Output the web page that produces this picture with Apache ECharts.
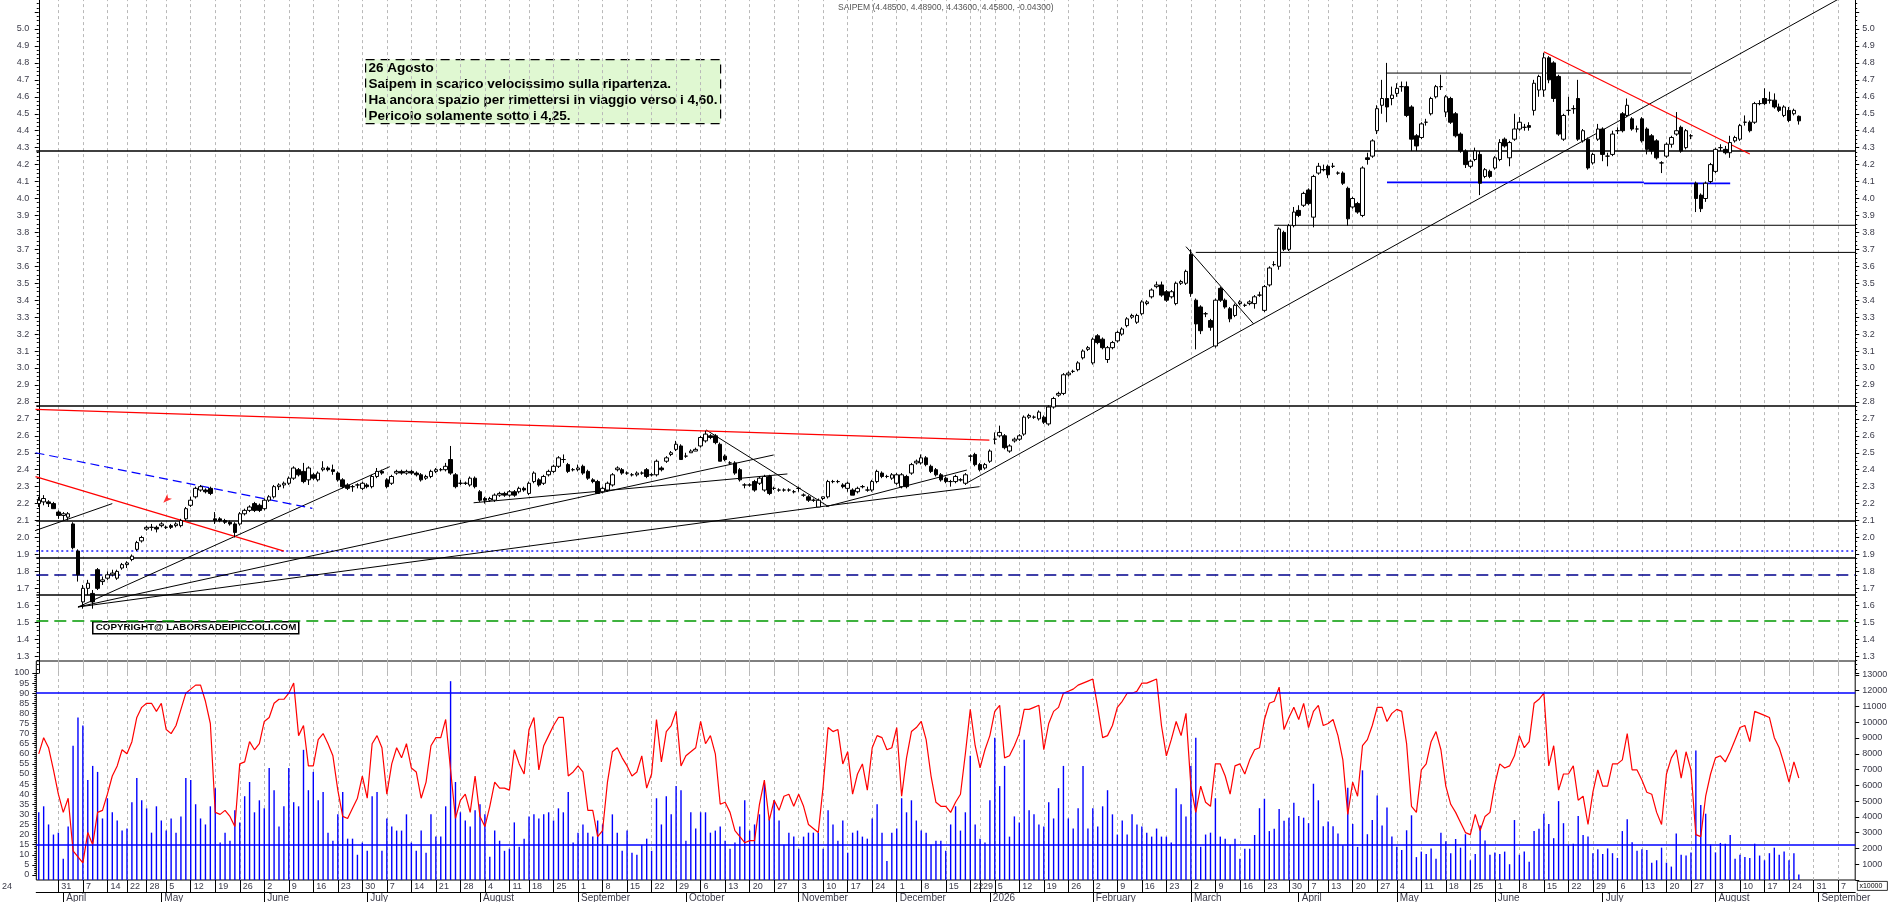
<!DOCTYPE html>
<html>
<head>
<meta charset="utf-8">
<title>SAIPEM</title>
<script src="https://cdn.jsdelivr.net/npm/echarts@6/dist/echarts.min.js"></script>
<style>
html, body { margin: 0; padding: 0; background: #fff; }
#chart { width: 1890px; height: 902px; }
</style>
</head>
<body>
<div id="chart"></div>
<script>
// trading calendar: first candle 25 Mar 2025, axis runs on to mid September 2026
const startDay = '2025-03-25';
const slotCount = 371;
const holidays = ['2025-04-18', '2025-04-21', '2025-05-01', '2025-08-15', '2025-12-24', '2025-12-25',
  '2025-12-26', '2025-12-31', '2026-01-01', '2026-04-03', '2026-04-06', '2026-05-01'];
const monthNames = ['January', 'February', 'March', 'April', 'May', 'June', 'July', 'August',
  'September', 'October', 'November', 'December'];

// daily candles [open, close, low, high]
const candles = [
  [2.20,2.22,2.18,2.24],[2.21,2.23,2.19,2.25],[2.21,2.20,2.18,2.22],[2.20,2.17,2.17,2.21],[2.15,2.13,2.11,2.16],[2.13,2.14,2.10,2.15],[2.12,2.14,2.10,2.15],[2.08,1.94,1.93,2.09],[1.92,1.78,1.74,1.93],[1.62,1.70,1.58,1.72],
  [1.70,1.73,1.66,1.75],[1.67,1.62,1.58,1.69],[1.81,1.70,1.69,1.82],[1.74,1.75,1.72,1.77],[1.76,1.78,1.75,1.80],[1.78,1.79,1.77,1.81],[1.76,1.80,1.75,1.81],[1.82,1.84,1.81,1.85],[1.84,1.85,1.82,1.86],[1.87,1.89,1.86,1.90],
  [1.93,1.97,1.92,1.98],[1.98,2.00,1.97,2.01],[2.05,2.06,2.04,2.07],[2.06,2.06,2.04,2.08],[2.06,2.05,2.03,2.07],[2.07,2.08,2.06,2.09],[2.06,2.06,2.05,2.07],[2.07,2.06,2.05,2.08],[2.07,2.08,2.06,2.09],[2.07,2.10,2.06,2.11],
  [2.11,2.17,2.10,2.18],[2.19,2.22,2.18,2.24],[2.24,2.29,2.23,2.30],[2.28,2.30,2.27,2.31],[2.28,2.27,2.26,2.29],[2.29,2.26,2.25,2.30],[2.11,2.10,2.08,2.15],[2.11,2.10,2.09,2.12],[2.10,2.09,2.08,2.11],[2.09,2.08,2.07,2.10],
  [2.08,2.03,2.00,2.09],[2.08,2.14,2.07,2.15],[2.14,2.16,2.13,2.17],[2.16,2.18,2.15,2.19],[2.20,2.16,2.15,2.21],[2.19,2.16,2.15,2.20],[2.17,2.22,2.16,2.23],[2.22,2.24,2.21,2.25],[2.24,2.30,2.23,2.31],[2.30,2.31,2.28,2.32],
  [2.31,2.32,2.29,2.33],[2.32,2.35,2.31,2.36],[2.35,2.41,2.34,2.42],[2.40,2.37,2.36,2.41],[2.39,2.33,2.32,2.44],[2.34,2.41,2.31,2.42],[2.37,2.35,2.34,2.38],[2.34,2.38,2.33,2.39],[2.40,2.41,2.39,2.45],[2.41,2.40,2.39,2.42],
  [2.40,2.39,2.37,2.43],[2.38,2.34,2.33,2.39],[2.34,2.30,2.29,2.35],[2.31,2.29,2.28,2.32],[2.30,2.30,2.27,2.31],[2.31,2.31,2.29,2.32],[2.29,2.32,2.28,2.33],[2.31,2.30,2.29,2.32],[2.30,2.36,2.29,2.37],[2.36,2.39,2.35,2.41],
  [2.39,2.38,2.37,2.40],[2.34,2.30,2.29,2.35],[2.32,2.36,2.31,2.37],[2.38,2.39,2.37,2.40],[2.39,2.38,2.37,2.40],[2.38,2.39,2.37,2.40],[2.39,2.38,2.37,2.40],[2.38,2.37,2.36,2.39],[2.37,2.34,2.33,2.38],[2.35,2.36,2.34,2.37],
  [2.36,2.39,2.35,2.40],[2.39,2.40,2.38,2.41],[2.40,2.40,2.39,2.41],[2.40,2.42,2.39,2.44],[2.46,2.38,2.37,2.54],[2.37,2.30,2.29,2.38],[2.32,2.32,2.31,2.34],[2.32,2.32,2.31,2.33],[2.31,2.35,2.30,2.36],[2.35,2.30,2.29,2.36],
  [2.27,2.22,2.21,2.28],[2.23,2.22,2.20,2.24],[2.22,2.23,2.21,2.24],[2.22,2.25,2.21,2.26],[2.25,2.26,2.24,2.27],[2.26,2.25,2.24,2.27],[2.25,2.27,2.24,2.28],[2.27,2.25,2.24,2.28],[2.27,2.29,2.26,2.30],[2.29,2.28,2.27,2.30],
  [2.26,2.32,2.25,2.33],[2.33,2.38,2.32,2.39],[2.34,2.31,2.30,2.35],[2.32,2.36,2.31,2.37],[2.37,2.39,2.36,2.40],[2.39,2.42,2.38,2.43],[2.42,2.47,2.41,2.48],[2.46,2.46,2.44,2.49],[2.43,2.39,2.38,2.44],[2.40,2.40,2.39,2.41],
  [2.40,2.41,2.39,2.43],[2.42,2.38,2.37,2.43],[2.39,2.35,2.34,2.40],[2.34,2.33,2.32,2.35],[2.33,2.26,2.26,2.34],[2.27,2.29,2.26,2.30],[2.28,2.32,2.27,2.33],[2.31,2.37,2.30,2.38],[2.40,2.41,2.39,2.42],[2.40,2.38,2.37,2.41],
  [2.38,2.38,2.37,2.39],[2.37,2.37,2.36,2.38],[2.37,2.38,2.36,2.39],[2.38,2.38,2.37,2.39],[2.40,2.36,2.35,2.41],[2.37,2.37,2.36,2.38],[2.37,2.45,2.36,2.46],[2.41,2.40,2.39,2.42],[2.45,2.47,2.44,2.48],[2.49,2.50,2.48,2.51],
  [2.52,2.55,2.51,2.57],[2.54,2.46,2.46,2.55],[2.48,2.48,2.47,2.50],[2.50,2.51,2.50,2.52],[2.51,2.52,2.51,2.53],[2.54,2.59,2.53,2.60],[2.57,2.61,2.56,2.63],[2.60,2.59,2.58,2.61],[2.60,2.56,2.55,2.61],[2.55,2.45,2.45,2.56],
  [2.48,2.46,2.45,2.49],[2.44,2.44,2.43,2.45],[2.44,2.38,2.37,2.45],[2.40,2.34,2.33,2.41],[2.31,2.31,2.29,2.32],[2.31,2.31,2.30,2.32],[2.33,2.28,2.27,2.34],[2.32,2.35,2.31,2.36],[2.28,2.36,2.27,2.37],[2.36,2.26,2.25,2.37],
  [2.29,2.29,2.28,2.30],[2.28,2.28,2.27,2.29],[2.28,2.28,2.27,2.29],[2.28,2.28,2.27,2.29],[2.27,2.27,2.26,2.28],[2.29,2.29,2.27,2.30],[2.25,2.25,2.24,2.26],[2.24,2.22,2.21,2.25],[2.22,2.22,2.21,2.23],[2.18,2.22,2.18,2.23],
  [2.23,2.24,2.22,2.24],[2.24,2.33,2.23,2.34],[2.33,2.33,2.32,2.34],[2.33,2.33,2.32,2.34],[2.31,2.30,2.29,2.32],[2.29,2.32,2.27,2.33],[2.28,2.25,2.25,2.29],[2.27,2.29,2.26,2.30],[2.30,2.30,2.29,2.31],[2.28,2.28,2.27,2.30],
  [2.28,2.33,2.27,2.34],[2.33,2.39,2.32,2.40],[2.38,2.36,2.35,2.39],[2.36,2.36,2.35,2.37],[2.35,2.37,2.34,2.38],[2.32,2.37,2.31,2.38],[2.30,2.37,2.29,2.38],[2.36,2.30,2.29,2.37],[2.38,2.43,2.37,2.44],[2.44,2.45,2.43,2.46],
  [2.44,2.47,2.43,2.49],[2.47,2.43,2.42,2.48],[2.42,2.39,2.38,2.43],[2.40,2.37,2.36,2.41],[2.37,2.34,2.33,2.38],[2.35,2.33,2.32,2.36],[2.33,2.33,2.30,2.34],[2.33,2.36,2.32,2.37],[2.34,2.34,2.33,2.35],[2.32,2.37,2.31,2.38],
  [2.48,2.48,2.45,2.49],[2.49,2.43,2.42,2.50],[2.43,2.40,2.39,2.44],[2.41,2.43,2.40,2.44],[2.45,2.51,2.44,2.52],[2.58,2.58,2.55,2.62],[2.60,2.62,2.59,2.66],[2.60,2.53,2.52,2.61],[2.51,2.54,2.50,2.55],[2.57,2.58,2.56,2.59],
  [2.58,2.60,2.57,2.61],[2.61,2.71,2.60,2.72],[2.71,2.72,2.70,2.73],[2.71,2.71,2.70,2.72],[2.70,2.74,2.69,2.75],[2.71,2.68,2.67,2.72],[2.67,2.77,2.66,2.78],[2.77,2.82,2.76,2.83],[2.84,2.85,2.83,2.86],[2.85,2.96,2.84,2.97],
  [2.96,2.97,2.95,2.98],[2.98,2.98,2.97,2.99],[2.99,3.03,2.98,3.04],[3.06,3.10,3.05,3.11],[3.11,3.12,3.10,3.13],[3.03,3.17,3.02,3.18],[3.19,3.15,3.14,3.20],[3.17,3.12,3.11,3.18],[3.05,3.12,3.03,3.13],[3.12,3.15,3.11,3.16],
  [3.16,3.21,3.15,3.22],[3.20,3.23,3.19,3.24],[3.25,3.29,3.24,3.30],[3.30,3.31,3.29,3.32],[3.27,3.31,3.26,3.32],[3.32,3.39,3.31,3.40],[3.38,3.39,3.37,3.40],[3.42,3.46,3.41,3.47],[3.48,3.49,3.47,3.51],[3.49,3.43,3.42,3.51],
  [3.45,3.40,3.39,3.46],[3.42,3.45,3.41,3.46],[3.38,3.50,3.37,3.51],[3.50,3.51,3.49,3.52],[3.50,3.57,3.49,3.58],[3.67,3.44,3.42,3.70],[3.40,3.26,3.11,3.41],[3.36,3.22,3.20,3.37],[3.32,3.32,3.30,3.33],[3.28,3.24,3.22,3.29],
  [3.13,3.40,3.12,3.41],[3.47,3.40,3.39,3.48],[3.40,3.36,3.35,3.41],[3.35,3.29,3.27,3.36],[3.31,3.37,3.30,3.38],[3.38,3.39,3.37,3.40],[3.37,3.37,3.36,3.38],[3.38,3.39,3.37,3.40],[3.38,3.42,3.35,3.43],[3.43,3.43,3.42,3.45],
  [3.34,3.48,3.33,3.49],[3.49,3.59,3.48,3.60],[3.61,3.61,3.60,3.63],[3.60,3.82,3.58,3.83],[3.80,3.70,3.69,3.81],[3.70,3.84,3.69,3.85],[3.84,3.92,3.83,3.95],[3.93,3.90,3.89,3.96],[3.96,4.03,3.95,4.04],[4.05,3.97,3.96,4.06],
  [3.89,4.13,3.83,4.14],[4.15,4.19,4.14,4.21],[4.17,4.17,4.16,4.20],[4.19,4.14,4.12,4.20],[4.19,4.19,4.18,4.21],[4.15,4.15,4.14,4.16],[4.15,4.09,4.08,4.16],[4.06,3.88,3.84,4.07],[3.95,4.00,3.94,4.01],[3.97,3.92,3.91,3.98],
  [3.90,4.18,3.89,4.19],[4.24,4.23,4.20,4.27],[4.25,4.34,4.24,4.35],[4.40,4.53,4.38,4.55],[4.55,4.59,4.50,4.70],[4.59,4.54,4.45,4.80],[4.59,4.61,4.55,4.66],[4.62,4.65,4.60,4.68],[4.66,4.66,4.63,4.69],[4.66,4.49,4.48,4.69],
  [4.54,4.35,4.28,4.55],[4.37,4.31,4.28,4.38],[4.36,4.44,4.35,4.45],[4.45,4.45,4.43,4.47],[4.50,4.59,4.49,4.60],[4.60,4.66,4.59,4.67],[4.66,4.66,4.64,4.73],[4.51,4.60,4.48,4.61],[4.59,4.45,4.44,4.60],[4.50,4.37,4.36,4.51],
  [4.38,4.28,4.27,4.39],[4.28,4.20,4.18,4.29],[4.19,4.22,4.18,4.23],[4.23,4.28,4.22,4.30],[4.26,4.09,4.02,4.28],[4.13,4.17,4.12,4.18],[4.16,4.13,4.12,4.17],[4.18,4.24,4.17,4.25],[4.23,4.33,4.22,4.35],[4.35,4.31,4.30,4.36],
  [4.24,4.33,4.19,4.34],[4.35,4.41,4.34,4.50],[4.41,4.45,4.40,4.48],[4.42,4.42,4.40,4.44],[4.43,4.42,4.40,4.45],[4.52,4.68,4.49,4.70],[4.64,4.72,4.60,4.73],[4.64,4.83,4.60,4.86],[4.83,4.70,4.68,4.84],[4.80,4.59,4.57,4.81],
  [4.72,4.38,4.37,4.73],[4.35,4.49,4.34,4.50],[4.52,4.52,4.49,4.60],[4.53,4.53,4.50,4.55],[4.59,4.35,4.34,4.70],[4.34,4.40,4.33,4.41],[4.35,4.18,4.17,4.36],[4.21,4.26,4.20,4.27],[4.35,4.41,4.34,4.44],[4.41,4.26,4.22,4.42],
  [4.25,4.25,4.19,4.27],[4.26,4.38,4.25,4.40],[4.40,4.40,4.38,4.42],[4.50,4.40,4.39,4.51],[4.49,4.55,4.48,4.59],[4.47,4.41,4.40,4.48],[4.41,4.41,4.39,4.43],[4.47,4.34,4.33,4.48],[4.41,4.29,4.26,4.42],[4.37,4.28,4.26,4.38],
  [4.34,4.24,4.23,4.35],[4.21,4.21,4.15,4.22],[4.25,4.32,4.24,4.33],[4.32,4.36,4.30,4.37],[4.38,4.40,4.37,4.51],[4.42,4.28,4.27,4.43],[4.30,4.40,4.29,4.41],[4.37,4.37,4.35,4.38],[4.09,4.00,3.92,4.10],[4.02,3.94,3.92,4.03],
  [4.00,4.09,3.98,4.10],[4.10,4.20,4.09,4.21],[4.16,4.29,4.15,4.30],[4.30,4.30,4.28,4.32],[4.29,4.27,4.26,4.31],[4.27,4.33,4.24,4.37],[4.34,4.36,4.33,4.37],[4.35,4.43,4.34,4.44],[4.45,4.45,4.43,4.49],[4.45,4.40,4.39,4.46],
  [4.45,4.56,4.44,4.57],[4.56,4.56,4.55,4.58],[4.59,4.56,4.55,4.65],[4.58,4.58,4.56,4.63],[4.58,4.54,4.53,4.62],[4.54,4.52,4.51,4.56],[4.49,4.54,4.48,4.55],[4.52,4.46,4.45,4.54],[4.50,4.52,4.49,4.53],[4.485,4.458,4.436,4.49]
];

// daily volume (right scale of the lower panel)
const volumes = [
  4290,4670,3520,2880,3000,1340,3390,8510,10300,9790, 6330,7230,6850,3900,5180,4290,3770,3130,3260,4930,
  6460,5050,4540,3000,4670,3770,3130,3900,3000,4030, 6460,6330,4800,3900,3520,4670,5820,2370,3000,2490,
  4420,3650,5310,6210,4290,5050,4540,7100,5690,3390, 4670,7100,4930,4670,8250,5690,6850,5050,5570,3000,
  2490,4160,5570,2620,2620,1600,2370,1850,5310,5570, 1850,3900,3390,3130,3130,4160,2370,1850,3130,1730,
  4160,2750,2750,4670,12600,6210,4290,3770,3390,4420, 4800,4160,1470,3130,2490,1850,1980,3650,2110,2620,
  4030,4160,3900,4160,4290,3770,4540,4290,5570,2370, 3000,3520,3000,2750,3770,3520,2240,4160,3000,
  1850,3130,1730,1600,2240,2620,1850,5180,3520,5310, 4160,5950,5690,2490,4290,3260,4290,4290,3000,3130,
  3390,2490,1980,2370,3390,5050,3130,3520,4160,6080, 3900,5050,3770,2240,3000,2750,1980,2750,3000,3000,
  3000,1980,4420,3520,2490,3770,1730,3000,3130,2750, 2620,3900,4800,3000,1210,3000,3260,5180,4290,5050,
  3770,3130,3000,2240,2490,2490,1850,3520,4670,3130, 4290,7870,3520,2620,2370,5050,9020,5950,7230,2750,
  4030,3650,8890,4420,4160,3520,3390,4930,3900,5820, 7230,3900,3260,4540,7230,3260,4540,3390,4670,5690,
  4160,2880,3770,2880,4160,3520,3390,3000,2750,3260, 2750,2750,2370,5820,4800,4030,7230,9020,2110,2880,
  3000,5180,2750,2620,2240,2620,1340,1980,1980,
  2850,4550,5150,3100,3250,4500,3750,3950,4900,4050, 3950,3600,6100,5050,3400,3700,3400,2950,2200,5850,
  3550,2100,6950,2900,3800,5350,3450,4600,2750,2100, 1900,3150,4100,1450,1800,1650,2000,1350,3000,2450,
  1700,2600,2050,2900,1250,1650,3450,2500,1600,1750, 1650,1800,1000,3800,1600,1800,1150,3100,3250,4200,
  3550,2650,5000,3600,2200,2300,4050,2850,2750,1700, 1950,1650,2000,1700,1400,3100,3850,2400,1850,1950,
  1900,1100,1250,2050,1100,850,2950,1600,1550,1750, 8200,4750,4200,2250,1750,2350,2300,2850,1350,1600,
  1450,1400,2300,1550,1250,1700,2050,1600,1800,1250, 1700,350
];

// oscillator 0-100 (left scale of the lower panel)
const oscillator = [
  60,68,63,52,40,31,38,12,9,6, 21,15,31,32,40,49,54,62,60,66, 78,83,85,85,81,85,72,70,74,82,
  90,92,94,94,86,75,31,30,32,29, 24,55,56,66,62,65,76,78,85,87, 87,90,95,69,74,54,54,67,70,65,
  59,42,29,28,33,38,49,38,65,69, 63,40,55,63,58,65,53,51,38,46, 64,68,68,77,52,28,37,40,31,49,
  29,24,34,46,43,43,42,62,55,50, 72,78,52,64,69,74,78,78,49,51, 54,51,32,32,19,22,46,61,63,
  58,54,49,51,59,43,50,77,56,71, 74,81,54,59,61,63,76,65,69,60, 35,36,31,22,19,16,17,17,35,47,
  27,37,32,39,40,34,40,34,25,23, 21,44,73,71,72,55,61,40,50,55, 42,63,69,68,62,63,73,39,58,71,
  73,76,67,49,36,34,34,31,36,40, 60,82,64,53,62,69,81,84,58,59, 64,70,82,82,83,84,62,75,81,83,
  90,91,92,94,95,96,97,83,68,69, 74,83,86,90,90,91,95,95,96,97, 74,59,67,76,69,80,44,31,44,36,
  34,55,55,49,40,54,55,50,
  57,62,63,77,85,86,93,72,78,83, 77,85,73,81,84,74,75,77,69,57, 30,46,39,64,67,74,83,83,76,80,
  82,81,65,34,31,52,55,66,71,62, 44,35,31,26,21,20,30,22,29,31, 45,55,53,54,59,69,63,66,85,87,
  90,54,64,42,50,50,54,37,39,25, 41,52,44,44,55,55,57,70,52,52, 47,41,40,31,25,50,58,62,48,61,
  52,20,19,39,50,58,59,56,61,67, 73,74,66,81,80,79,78,68,63,55, 46,56,48
];
const oscLevels = [90, 15];

// horizontal price levels across the whole chart
const blackLevels = [4.28, 2.78, 2.095, 1.877, 1.658];
const blueDottedLevels = [1.918];
const navyDashedLevels = [1.782];
const greenDashedLevels = [1.51];

// drawn segments: [[day index, price], [day index, price]]
const blackLines = [
  [[189.2, 2.32], [369, 5.207]],
  [[252, 3.842], [371, 3.842]],
  [[236, 3.682], [371, 3.682]],
  [[275, 4.74], [337, 4.74]],
  [[8, 1.59], [71.6, 2.418]],
  [[8, 1.59], [149.9, 2.487]],
  [[8, 1.59], [160.6, 2.186]],
  [[160.6, 2.186], [191.9, 2.30]],
  [[88.7, 2.205], [152.7, 2.375]],
  [[136.1, 2.635], [161.1, 2.182]],
  [[160.6, 2.182], [189.3, 2.398]],
  [[-0.8, 2.04], [15, 2.20]],
  [[234, 3.716], [247.8, 3.26]]
];
const redLines = [
  [[-0.66, 2.359], [50, 1.92]],
  [[-0.66, 2.756], [193.9, 2.575]],
  [[307, 4.866], [349, 4.263]]
];
const blueLines = [
  [[275, 4.095], [327.4, 4.095]],
  [[327.4, 4.089], [345, 4.089]]
];
const blueDashedLines = [
  [[-0.66, 2.50], [55.8, 2.172]]
];
const arrowMarks = [[25.4, 2.205]];

const noteLines = ['26 Agosto', 'Saipem in scarico velocissimo sulla ripartenza.',
  'Ha ancora spazio per rimettersi in viaggio verso i 4,60.', 'Pericolo solamente sotto i 4,25.'];
const headerText = 'SAIPEM (4.48500, 4.48900, 4.43600, 4.45800, -0.04300)';
const copyrightText = 'COPYRIGHT@ LABORSADEIPICCOLI.COM';

function buildDays(start, count) {
  const out = [];
  const d = new Date(start + 'T00:00:00Z');
  while (out.length < count) {
    const wd = d.getUTCDay();
    const iso = d.toISOString().slice(0, 10);
    if (wd !== 0 && wd !== 6 && holidays.indexOf(iso) < 0) out.push(iso);
    d.setUTCDate(d.getUTCDate() + 1);
  }
  return out;
}
const days = buildDays(startDay, slotCount);
const dow = s => new Date(s + 'T00:00:00Z').getUTCDay();
const weekStart = days.map((s, i) => i > 0 && dow(s) < dow(days[i - 1]));
const monthStart = days.map((s, i) => i > 0 && s.slice(5, 7) !== days[i - 1].slice(5, 7));
const isWeek = i => weekStart[i];
const isMonth = i => monthStart[i];
const weekDays = days.filter((s, i) => weekStart[i]);

const FONT = 'Liberation Sans, Arial, sans-serif';
const labelColor = '#3a3a48';
const L = 36.3, R = 1890 - 1855.2;

function levelLines(values, color, type, width) {
  return values.map(v => ({ yAxis: v, lineStyle: { color: color, type: type, width: width } }));
}
function segSeries(list, color, type, width) {
  return list.map(seg => ({
    type: 'line', xAxisIndex: 1, yAxisIndex: 0, data: seg, symbol: 'none', silent: true,
    clip: true, z: 4, lineStyle: { color: color, type: type, width: width }
  }));
}
// weekly dashed verticals, one empty holder series per panel
function weekGrid(xi, yi) {
  return {
    type: 'line', xAxisIndex: xi, yAxisIndex: yi, data: [], silent: true, z: 1,
    markLine: { silent: true, symbol: 'none', label: { show: false }, z: 1,
      lineStyle: { color: '#b9b9b9', type: [3, 3], width: 1 },
      data: weekDays.map(s => ({ xAxis: s })) }
  };
}
const priceLabel = v => (v < 1.25 || v > 5.05) ? '' : v.toFixed(1);

const option = {
  animation: false,
  backgroundColor: '#fff',
  textStyle: { fontFamily: FONT },
  grid: [
    { left: L, right: R, top: -4.9, height: 678, outerBoundsMode: 'none' },
    { left: L, right: R, top: 673, height: 202, outerBoundsMode: 'none' },
    { left: L, right: R, top: 661, height: 219, show: true, borderColor: '#000', borderWidth: 1, outerBoundsMode: 'none' }
  ],
  xAxis: [
    { type: 'category', gridIndex: 0, data: days, axisLine: { show: false }, axisTick: { show: false },
      axisLabel: { show: false }, splitLine: { show: false } },
    { type: 'value', gridIndex: 0, min: -0.5, max: slotCount - 0.5, show: false },
    { type: 'category', gridIndex: 1, data: days, show: false },
    { type: 'category', gridIndex: 2, data: days, axisLine: { show: false },
      axisTick: { show: true, interval: isWeek, alignWithLabel: true, length: 12, lineStyle: { color: '#000' } },
      axisLabel: { interval: isWeek, formatter: v => String(+v.slice(8)), align: 'left', margin: 2,
        padding: [0, 0, 0, 3], fontSize: 9, color: labelColor },
      splitLine: { show: false } },
    { type: 'category', gridIndex: 2, data: days, position: 'bottom', offset: 12,
      axisLine: { show: true, lineStyle: { color: '#000', width: 1.2 } },
      axisTick: { show: true, interval: isMonth, alignWithLabel: true, length: 10, lineStyle: { color: '#000' } },
      axisLabel: { interval: isMonth, align: 'left', margin: 1, padding: [0, 0, 0, 3], fontSize: 10, color: labelColor,
        formatter: v => v.slice(5, 7) === '01' ? v.slice(0, 4) : monthNames[+v.slice(5, 7) - 1] },
      splitLine: { show: false } }
  ],
  yAxis: [
    { type: 'value', gridIndex: 0, position: 'left', min: 1.2, max: 5.2, interval: 0.1,
      axisLine: { show: true, lineStyle: { color: '#000' } },
      axisTick: { show: true, length: 4, lineStyle: { color: '#000' } },
      minorTick: { show: true, splitNumber: 4, length: 2, lineStyle: { color: '#000' } },
      axisLabel: { formatter: priceLabel, fontSize: 9, color: labelColor, margin: 7 }, splitLine: { show: false } },
    { type: 'value', gridIndex: 0, position: 'right', min: 1.2, max: 5.2, interval: 0.1,
      axisLine: { show: true, lineStyle: { color: '#000' } },
      axisTick: { show: true, length: 4, lineStyle: { color: '#000' } },
      minorTick: { show: true, splitNumber: 4, length: 2, lineStyle: { color: '#000' } },
      axisLabel: { formatter: priceLabel, fontSize: 9, color: labelColor, margin: 7 }, splitLine: { show: false } },
    { type: 'value', gridIndex: 1, position: 'left', min: 0, max: 100, interval: 5,
      axisLine: { show: false }, axisTick: { show: true, length: 4, lineStyle: { color: '#000' } },
      minorTick: { show: true, splitNumber: 5, length: 2, lineStyle: { color: '#000' } },
      axisLabel: { fontSize: 9, color: labelColor, margin: 7 }, splitLine: { show: false } },
    { type: 'value', gridIndex: 2, position: 'right', min: 0, max: 13878, interval: 1000,
      axisLine: { show: false }, axisTick: { show: true, length: 4, lineStyle: { color: '#000' } },
      axisLabel: { fontSize: 9, color: labelColor, margin: 7, showMaxLabel: false,
        formatter: v => v === 0 ? '' : String(v) }, splitLine: { show: false } }
  ],
  series: [
    weekGrid(0, 0),
    weekGrid(3, 3),
    { type: 'candlestick', xAxisIndex: 0, yAxisIndex: 0, data: candles, barWidth: 4, z: 5,
      itemStyle: { color: '#fff', color0: '#000', borderColor: '#000', borderColor0: '#000', borderWidth: 1 },
      markLine: { silent: true, symbol: 'none', label: { show: false }, z: 3,
        data: [].concat(
          levelLines(blackLevels, '#000', 'solid', 1.5),
          levelLines(blueDottedLevels, '#1a1aff', [2, 3], 1.5),
          levelLines(navyDashedLevels, '#00008c', [12, 6], 1.5),
          levelLines(greenDashedLevels, '#009900', [12, 6], 1.5)) } },
    ...segSeries(blackLines, '#000', 'solid', 1),
    ...segSeries(redLines, '#ff0000', 'solid', 1.2),
    ...segSeries(blueLines, '#0000ff', 'solid', 1.6),
    ...segSeries(blueDashedLines, '#0000ff', [9, 5], 1.2),
    { type: 'scatter', xAxisIndex: 1, yAxisIndex: 0, data: arrowMarks, symbol: 'arrow', symbolSize: [5, 9],
      symbolRotate: 135, itemStyle: { color: '#ff0000' }, silent: true, z: 6 },
    { type: 'bar', xAxisIndex: 3, yAxisIndex: 3, data: volumes, barWidth: 1.4, itemStyle: { color: '#0000ff' },
      silent: true, z: 2 },
    { type: 'line', xAxisIndex: 2, yAxisIndex: 2, data: oscillator, symbol: 'none', silent: true, z: 4,
      lineStyle: { color: '#ff0000', width: 1.2 },
      markLine: { silent: true, symbol: 'none', label: { show: false },
        data: oscLevels.map(v => ({ yAxis: v, lineStyle: { color: '#0000ff', type: 'solid', width: 1.6 } })) } }
  ],
  graphic: [
    { type: 'group', left: 365, top: 59, z: 100, children: [
      { type: 'rect', shape: { x: 0, y: 0, width: 355, height: 64 },
        style: { fill: '#e0f8d2', stroke: '#000', lineWidth: 1.2, lineDash: [9, 6] } },
      { type: 'text', x: 3, y: 1, style: { text: noteLines.join('\n'), fill: '#000',
        font: 'bold 13.5px "Liberation Sans", Arial, sans-serif', lineHeight: 16 } }
    ] },
    { type: 'text', left: 838, top: 3, z: 100, style: { text: headerText, fill: '#555',
      font: '8.5px "Liberation Sans", Arial, sans-serif' } },
    { type: 'group', left: 92, top: 621, z: 100, children: [
      { type: 'rect', shape: { x: 0, y: 0, width: 206, height: 12 },
        style: { fill: '#fff', stroke: '#000', lineWidth: 1.5 } },
      { type: 'text', x: 3, y: 1, style: { text: copyrightText, fill: '#000',
        font: 'bold 9.8px "Liberation Sans", Arial, sans-serif' } }
    ] },
    { type: 'text', left: 2, top: 882, z: 100, style: { text: '24', fill: labelColor, font: '9px ' + FONT } },
    { type: 'group', left: 1857, top: 881, z: 100, children: [
      { type: 'rect', shape: { x: 0, y: 0, width: 30, height: 9 }, style: { fill: '#fff', stroke: '#000', lineWidth: 0.8 } },
      { type: 'text', x: 2, y: 1, style: { text: 'x10000', fill: '#000', font: '7px ' + FONT } }
    ] }
  ]
};

const chart = echarts.init(document.getElementById('chart'), null, { renderer: 'canvas' });
chart.setOption(option);
</script>
</body>
</html>
